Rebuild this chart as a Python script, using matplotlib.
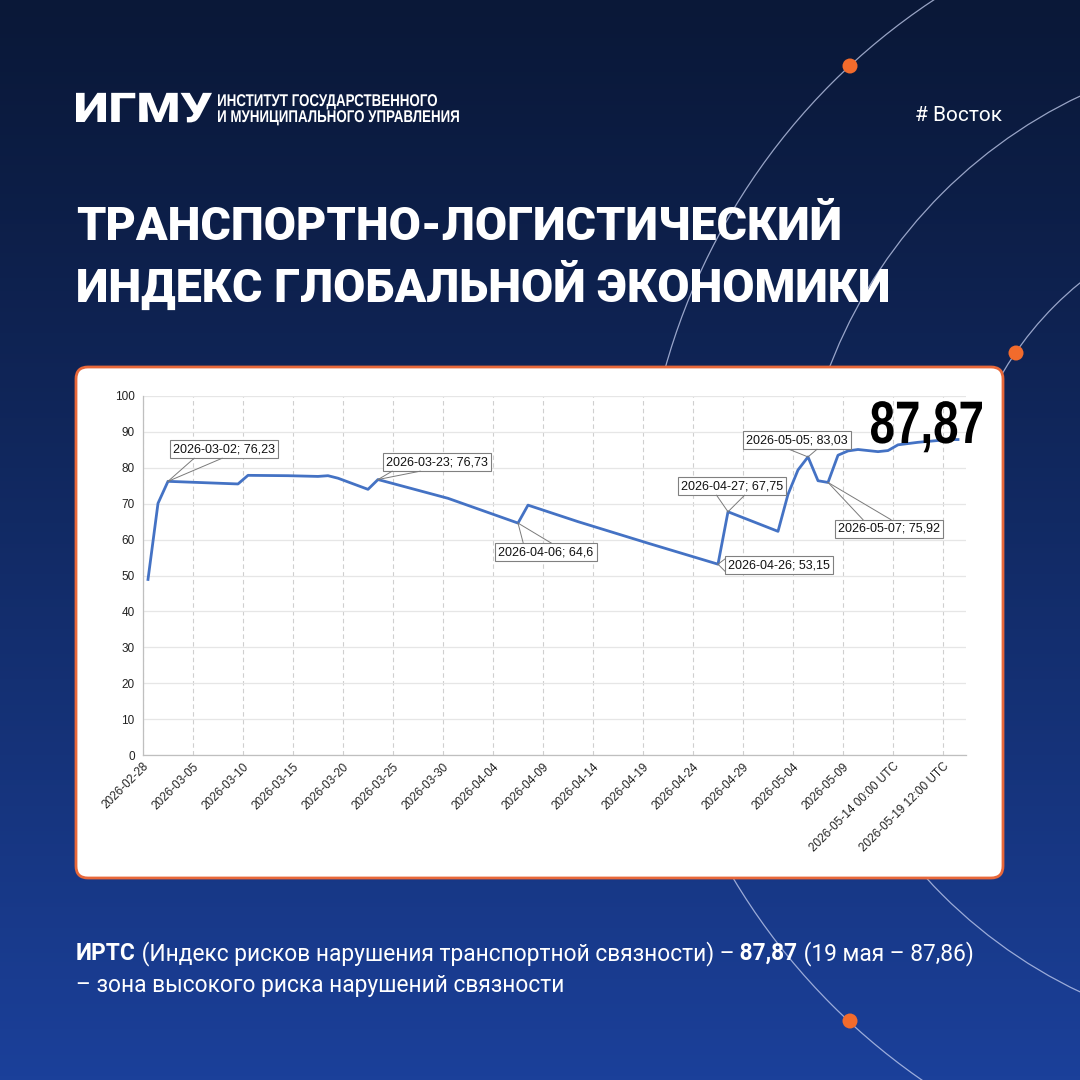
import matplotlib
matplotlib.use('Agg')
import matplotlib.pyplot as plt
import matplotlib.dates as mdates
from matplotlib.patches import Circle, Arc, FancyBboxPatch, PathPatch
from matplotlib.textpath import TextPath
from matplotlib.font_manager import FontProperties
from matplotlib.transforms import Affine2D
import numpy as np
import pandas as pd

# --- data ---
dates = ['2026-02-28', '2026-03-01', '2026-03-02', '2026-03-09', '2026-03-10',
         '2026-03-14', '2026-03-17', '2026-03-18', '2026-03-19', '2026-03-22',
         '2026-03-23', '2026-03-30', '2026-04-06', '2026-04-07', '2026-04-12',
         '2026-04-19', '2026-04-26', '2026-04-27', '2026-05-02', '2026-05-03',
         '2026-05-04', '2026-05-05', '2026-05-06', '2026-05-07', '2026-05-08',
         '2026-05-09', '2026-05-10', '2026-05-11', '2026-05-12', '2026-05-13',
         '2026-05-14', '2026-05-16', '2026-05-19', '2026-05-20']
values = [48.9, 70.1, 76.23, 75.5, 77.9,
          77.8, 77.6, 77.8, 77.1, 74.0,
          76.73, 71.5, 64.6, 69.6, 65.0,
          59.0, 53.15, 67.75, 62.3, 72.6,
          79.4, 83.03, 76.4, 75.92, 83.5,
          84.7, 85.1, 84.8, 84.5, 84.8,
          86.4, 87.1, 87.86, 87.87]

callout_dates = ['2026-03-02', '2026-03-23', '2026-04-06', '2026-04-26',
                 '2026-04-27', '2026-05-05', '2026-05-07']
callout_values = [76.23, 76.73, 64.6, 53.15, 67.75, 83.03, 75.92]

tick_labels = ['2026-02-28', '2026-03-05', '2026-03-10', '2026-03-15', '2026-03-20',
               '2026-03-25', '2026-03-30', '2026-04-04', '2026-04-09', '2026-04-14',
               '2026-04-19', '2026-04-24', '2026-04-29', '2026-05-04', '2026-05-09',
               '2026-05-14 00:00 UTC', '2026-05-19 12:00 UTC']

last_value = '87,87'

# callout box centres (days from axis start, y value)
box_pos = [(8.1, 85.2), (29.4, 81.6), (40.3, 56.5), (63.6, 52.9),
           (58.9, 74.9), (65.4, 87.7), (74.6, 63.0)]

arial = 'Liberation Sans'
head = 'Roboto'


def squeezed(axis, x, y, s, em, family, weight, width=None, sx=1.0, ha='left',
             color='white', z=4):
    # text drawn as a path so it can be narrowed horizontally (no narrow font here)
    tp = TextPath((0, 0), s, size=em, prop=FontProperties(family=family, weight=weight))
    bb = tp.get_extents()
    if width is not None:
        sx = width / bb.width
    w = bb.width * sx
    x0 = x - {'left': 0, 'center': w / 2, 'right': w}[ha]
    tr = Affine2D().translate(-bb.x0, 0).scale(sx, -1).translate(x0, y)
    axis.add_patch(PathPatch(tr.transform_path(tp), fc=color, ec='none', zorder=z))
    return sx


fig = plt.figure(figsize=(10.8, 10.8), dpi=100)

# background
bg = fig.add_axes([0, 0, 1, 1])
bg.set_xlim(0, 1080)
bg.set_ylim(1080, 0)
bg.axis('off')
top = np.array([0x0a, 0x18, 0x38]) / 255
bot = np.array([0x1b, 0x40, 0x9a]) / 255
t = np.linspace(0, 1, 256)[:, None]
grad = top + (bot - top) * t ** 1.1
bg.imshow(grad[:, None, :], extent=(0, 1080, 1080, 0), aspect='auto', zorder=0)

arc_col = (0.78, 0.82, 0.95, 0.75)
for r in (652, 496):
    bg.add_patch(Circle((1293, 544), r, fill=False, ec=arc_col, lw=0.9, zorder=1))
bg.add_patch(Arc((1293, 544), 674, 674, theta1=180, theta2=270, ec=arc_col, lw=0.9, zorder=1))
for cx, cy in [(850, 66), (1016, 353), (850, 1021)]:
    bg.add_patch(Circle((cx, cy), 7.5, fc='#f26b2c', ec='none', zorder=2))

bg.add_patch(FancyBboxPatch((76, 367), 927, 511, boxstyle='round,pad=0,rounding_size=12',
                            fc='white', ec='#e8683a', lw=2, zorder=3))

# header
squeezed(bg, 76, 122, 'ИГМУ', 41, head, 'black', width=136)
sx = squeezed(bg, 218, 106, 'ИНСТИТУТ ГОСУДАРСТВЕННОГО', 17, arial, 'bold', width=219)
squeezed(bg, 218, 122, 'И МУНИЦИПАЛЬНОГО УПРАВЛЕНИЯ', 17, arial, 'bold', sx=sx)
bg.text(1002, 121, '# Восток', color='white', fontsize=15, fontfamily=head,
        ha='right', va='baseline', zorder=4)

bg.text(76, 240, 'ТРАНСПОРТНО-ЛОГИСТИЧЕСКИЙ', color='white', fontsize=33.6,
        fontfamily=head, fontweight='black', ha='left', va='baseline', zorder=4)
bg.text(76, 302, 'ИНДЕКС ГЛОБАЛЬНОЙ ЭКОНОМИКИ', color='white', fontsize=33.6,
        fontfamily=head, fontweight='black', ha='left', va='baseline', zorder=4)

# bottom text with bold parts
renderer = fig.canvas.get_renderer()
segs = [('ИРТС', 'bold'), (' (Индекс рисков нарушения транспортной связности) –', 'normal'),
        (' 87,87', 'bold'), (' (19 мая – 87,86)', 'normal')]
x = 76
for s, w in segs:
    tx = bg.text(x, 960, s, color='white', fontsize=16.4, fontfamily=head, fontweight=w,
                 ha='left', va='baseline', zorder=4)
    x += tx.get_window_extent(renderer).width
bg.text(76, 992, '– зона высокого риска нарушений связности', color='white', fontsize=16.4,
        fontfamily=head, ha='left', va='baseline', zorder=4)

# chart
ax = fig.add_axes([143 / 1080, 1 - 755 / 1080, (966 - 143) / 1080, (755 - 396) / 1080], zorder=5)
ax.set_facecolor('none')
start = pd.Timestamp('2026-02-28')
x_pts = pd.to_datetime(dates) + pd.Timedelta(hours=12)
ax.plot(x_pts, values, color='#4472c4', lw=2.0, zorder=3)

ax.set_xlim(start, start + pd.Timedelta(days=82.3))
ax.set_ylim(0, 100)
ax.set_yticks(range(0, 101, 10))
ticks = [start + pd.Timedelta(days=5 * i) for i in range(len(tick_labels))]
ax.set_xticks(ticks)
ax.set_xticklabels(tick_labels, rotation=45, ha='right', va='top', rotation_mode='anchor',
                   fontsize=8.5, fontfamily=arial, color='#222222')
for lab in ax.get_yticklabels():
    lab.set_fontfamily(arial)
    lab.set_fontsize(8.5)
    lab.set_color('#222222')
ax.tick_params(axis='y', length=0, pad=6)
ax.tick_params(axis='x', length=0, pad=4)
ax.grid(axis='y', color='#e6e6e6', lw=0.9)
ax.grid(axis='x', color='#cfcfcf', lw=0.8, ls=(0, (4, 3)))
ax.set_axisbelow(True)
for side in ('top', 'right'):
    ax.spines[side].set_visible(False)
for side in ('left', 'bottom'):
    ax.spines[side].set_color('#bfbfbf')
    ax.spines[side].set_linewidth(0.9)

anns = []
for d, v, (bx, by) in zip(callout_dates, callout_values, box_pos):
    label = f"{d}; {str(v).replace('.', ',')}"
    xy = (pd.Timestamp(d) + pd.Timedelta(hours=12), v)
    a = ax.annotate(label, xy=xy, xytext=(start + pd.Timedelta(days=bx), by),
                    ha='center', va='center', fontsize=9, fontfamily=arial, color='#111111',
                    bbox=dict(boxstyle='square,pad=0.25', fc='white', ec='#808080', lw=0.8),
                    zorder=6)
    anns.append((a, xy))

# overlay for leader lines and the big last value
ov = fig.add_axes([0, 0, 1, 1], zorder=10)
ov.set_xlim(0, 1080)
ov.set_ylim(1080, 0)
ov.axis('off')
ov.patch.set_alpha(0)

# excel-style callout leaders: two lines from the box edge to the point
fig.canvas.draw()
renderer = fig.canvas.get_renderer()
for a, (xd, yv) in anns:
    ext = a.get_bbox_patch().get_window_extent(renderer)
    x0, x1 = ext.x0, ext.x1
    y0, y1 = 1080 - ext.y1, 1080 - ext.y0
    px, py = ax.transData.transform((mdates.date2num(xd), yv))
    py = 1080 - py
    cx, cy = (x0 + x1) / 2, (y0 + y1) / 2
    dx, dy = px - cx, py - cy
    tx_ = (x1 - x0) / 2 / abs(dx) if dx else np.inf
    ty_ = (y1 - y0) / 2 / abs(dy) if dy else np.inf
    if ty_ < tx_:
        ey = y1 if dy > 0 else y0
        ix = min(max(cx + dx * ty_, x0 + 16), x1 - 16)
        pts = [(ix - 14, ey), (ix + 14, ey)]
    else:
        ex = x1 if dx > 0 else x0
        pts = [(ex, y0 + 3), (ex, y1 - 3)]
    for qx, qy in pts:
        ov.plot([qx, px], [qy, py], color='#7a7a7a', lw=0.7, zorder=3)

squeezed(ov, 871, 443, last_value, 60, arial, 'bold', width=111, color='black', z=5)

fig.savefig('out.png', dpi=100)
